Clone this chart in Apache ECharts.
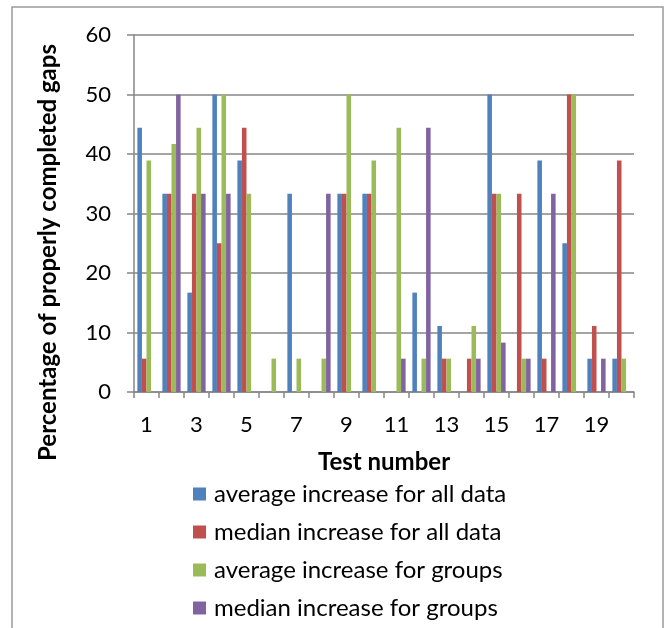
<!DOCTYPE html>
<html style="height: 100%">
<head>
    <meta charset="utf-8">
</head>
<body style="height: 100%; margin: 0">
<div id="container" style="width: 665px; height: 628px"></div>

<script type="text/javascript" src="https://cdn.jsdelivr.net/npm/echarts@6/dist/echarts.min.js"></script>

<script type="text/javascript">
    var tests = ['1', '2', '3', '4', '5', '6', '7', '8', '9', '10',
                 '11', '12', '13', '14', '15', '16', '17', '18', '19', '20'];
    var seriesNames = ['average increase for all data', 'median increase for all data',
                       'average increase for groups', 'median increase for groups'];
    var avgAll    = [44.4, 33.3, 16.7, 50, 38.9, 0, 33.3, 0, 33.3, 33.3, 0, 16.7, 11.1, 0, 50, 0, 38.9, 25, 5.6, 5.6];
    var medAll    = [5.6, 33.3, 33.3, 25, 44.4, 0, 0, 0, 33.3, 33.3, 0, 0, 5.6, 5.6, 33.3, 33.3, 5.6, 50, 11.1, 38.9];
    var avgGroups = [38.9, 41.7, 44.4, 50, 33.3, 5.6, 5.6, 5.6, 50, 38.9, 44.4, 5.6, 5.6, 11.1, 33.3, 5.6, 0, 50, 0, 5.6];
    var medGroups = [0, 50, 33.3, 33.3, 0, 0, 0, 33.3, 0, 0, 5.6, 44.4, 0, 5.6, 8.3, 5.6, 33.3, 0, 5.6, 0];
    var colors = ['#4f81bd', '#c0504d', '#9bbb59', '#8064a2'];

    var dom = document.getElementById("container");
    var myChart = echarts.init(dom);
    var font = 'Lato, "Open Sans", sans-serif';
    var gridColor = '#868686';

    var values = [avgAll, medAll, avgGroups, medGroups];
    var series = values.map(function (v, i) {
        return {
            name: seriesNames[i],
            type: 'bar',
            data: v,
            barGap: 0,
            barCategoryGap: '27%',
            itemStyle: { color: colors[i] }
        };
    });

    var option = {
        animation: false,
        textStyle: { fontFamily: font },
        graphic: [{
            type: 'rect',
            shape: { x: 12, y: 7, width: 651, height: 640 },
            style: { fill: 'none', stroke: '#9a9a9a', lineWidth: 1.5 },
            silent: true
        }],
        grid: { left: 134, right: 31, top: 35, bottom: 236 },
        legend: {
            orient: 'vertical',
            left: 193,
            top: 482,
            padding: 0,
            itemWidth: 13,
            itemHeight: 13,
            itemGap: 14,
            icon: 'rect',
            data: seriesNames,
            textStyle: { fontSize: 24, lineHeight: 20, color: '#000', fontFamily: font, padding: [0, 0, 0, 3] }
        },
        xAxis: {
            type: 'category',
            data: tests,
            name: 'Test number',
            nameLocation: 'middle',
            nameGap: 58,
            nameTextStyle: { fontSize: 24, fontWeight: 'bold', color: '#000', fontFamily: font },
            axisLine: { lineStyle: { color: gridColor, width: 1.5 } },
            axisTick: { show: true, interval: 0, length: 6, lineStyle: { color: gridColor, width: 1.5 } },
            axisLabel: { interval: 1, margin: 22, fontSize: 22, color: '#000', fontFamily: font }
        },
        yAxis: {
            type: 'value',
            min: 0,
            max: 60,
            interval: 10,
            name: 'Percentage of properly completed gaps',
            nameLocation: 'middle',
            nameRotate: 90,
            nameGap: 74,
            nameTextStyle: { fontSize: 24, fontWeight: 'bold', color: '#000', fontFamily: font, padding: [0, 78, 0, 0] },
            axisLine: { show: true, lineStyle: { color: gridColor, width: 1.5 } },
            axisTick: { show: true, length: 7, lineStyle: { color: gridColor, width: 1.5 } },
            axisLabel: { margin: 23, fontSize: 22, color: '#000', fontFamily: font },
            splitLine: { lineStyle: { color: gridColor, width: 1.5 } }
        },
        series: series
    };

    myChart.setOption(option);
</script>
</body>
</html>
